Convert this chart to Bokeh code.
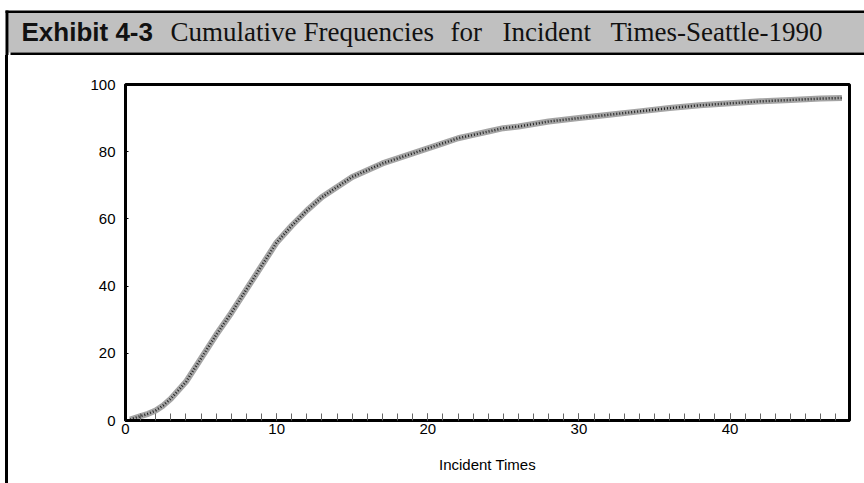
from bokeh.plotting import figure
from bokeh.models import Range1d, FixedTicker, Label, Spacer
from bokeh.layouts import column, row
from bokeh.embed import file_html
from bokeh.resources import INLINE

# Data
incident_time = [0.3, 1.0, 1.5, 2.0, 2.5, 3.0, 3.5, 4.0, 5.0, 6.0, 7.0, 8.0, 9.0, 10.0,
                 11.0, 12.0, 13.0, 14.0, 15.0, 16.0, 17.0, 18.0, 19.0, 20.0, 21.0,
                 22.0, 23.0, 24.0, 25.0, 26.0, 28.0, 30.0, 32.0, 34.0, 36.0, 38.0,
                 40.0, 42.0, 44.0, 46.0, 47.4]
cum_freq = [0.3, 1.3, 2.0, 3.0, 4.5, 6.5, 9.0, 11.5, 18.5, 25.5, 32.0, 39.0, 46.0, 53.0,
            58.0, 62.5, 66.5, 69.5, 72.5, 74.5, 76.5, 78.0, 79.5, 81.0, 82.5,
            84.0, 85.0, 86.0, 87.0, 87.5, 89.0, 90.0, 91.0, 92.0, 93.0, 93.8,
            94.4, 95.0, 95.4, 95.8, 96.0]
x_ticks = [0, 10, 20, 30, 40]
x_minor_ticks = list(range(0, 48))
y_ticks = [0, 20, 40, 60, 80, 100]

exhibit_label = "Exhibit 4-3"
title_words = ["Cumulative", "Frequencies", "for", "Incident", "Times-Seattle-1990"]
title_word_x = [170, 303, 450, 502, 610]
x_label = "Incident Times"

W, H = 864, 483
HEAD_H = 55
GAP_W = 5
BAR_W = 3


def bare(fig):
    fig.axis.visible = False
    fig.grid.visible = False
    fig.outline_line_color = None
    fig.min_border = 0
    fig.background_fill_color = "white"
    fig.border_fill_color = "white"
    return fig


# ---- header (pixel coordinates, y downwards) ----
head = bare(figure(width=W, height=HEAD_H, output_backend="svg", toolbar_location=None,
                   x_range=Range1d(0, W), y_range=Range1d(HEAD_H, 0),
                   min_border=0))
head.quad(left=[8], right=[W], top=[12], bottom=[52], fill_color="#c0c0c0",
          line_color=None)
head.quad(left=[GAP_W], right=[W], top=[10], bottom=[12.5], fill_color="black",
          line_color=None)
head.quad(left=[10], right=[W], top=[52], bottom=[54.5], fill_color="black",
          line_color=None)
head.quad(left=[GAP_W], right=[GAP_W + BAR_W], top=[10], bottom=[HEAD_H],
          fill_color="black", line_color=None)
head.add_layout(Label(x=21, y=31, text=exhibit_label,
                      text_font="Liberation Sans", text_font_style="bold",
                      text_font_size="26px", text_color="#111111",
                      text_baseline="alphabetic"))
for wx, word in zip(title_word_x, title_words):
    head.add_layout(Label(x=wx, y=31, text=word,
                          text_font="Liberation Serif", text_font_size="27px",
                          text_color="#111111", text_baseline="alphabetic"))

# ---- left page border ----
body_h = H - HEAD_H
gap = Spacer(width=GAP_W, height=body_h)
bar = Spacer(width=BAR_W, height=body_h, styles={"background-color": "black"})

# ---- main chart ----
left_off = GAP_W + BAR_W
p = figure(width=W - left_off, height=body_h, output_backend="svg",
           toolbar_location=None,
           x_range=Range1d(0, 47.9), y_range=Range1d(0, 100),
           min_border_left=125 - left_off, min_border_right=15,
           min_border_top=84 - HEAD_H, min_border_bottom=63,
           background_fill_color="white", border_fill_color="white")
p.grid.visible = False
p.outline_line_color = "black"
p.outline_line_width = 3

xa = p.xaxis[0]
xa.ticker = FixedTicker(ticks=x_ticks, minor_ticks=x_minor_ticks)
xa.axis_line_width = 3
xa.axis_line_color = "black"
xa.major_tick_in = 7
xa.major_tick_out = 0
xa.minor_tick_in = 7
xa.minor_tick_out = 0
xa.major_tick_line_color = "#444444"
xa.minor_tick_line_color = "#666666"
xa.major_label_standoff = 3
xa.major_label_text_font = "Liberation Sans"
xa.major_label_text_font_size = "15px"
xa.major_label_text_color = "black"
xa.axis_label = x_label
xa.axis_label_text_font = "Liberation Sans"
xa.axis_label_text_font_size = "15px"
xa.axis_label_text_font_style = "normal"
xa.axis_label_text_color = "black"
xa.axis_label_standoff = 19

ya = p.yaxis[0]
ya.ticker = FixedTicker(ticks=y_ticks)
ya.axis_line_width = 2.5
ya.axis_line_color = "black"
ya.major_tick_in = 3
ya.major_tick_out = 0
ya.minor_tick_line_color = None
ya.major_label_standoff = 10
ya.major_label_text_font = "Liberation Sans"
ya.major_label_text_font_size = "15px"
ya.major_label_text_color = "black"

# curve: textured band
p.line(incident_time, cum_freq, line_width=6, line_color="#9a9a9a", line_alpha=0.9)
p.line(incident_time, cum_freq, line_width=2.5, line_color="#222222", line_dash="1 2")

layout = column(head, row(gap, bar, p))
open("out.html", "w").write(file_html(layout, INLINE))
